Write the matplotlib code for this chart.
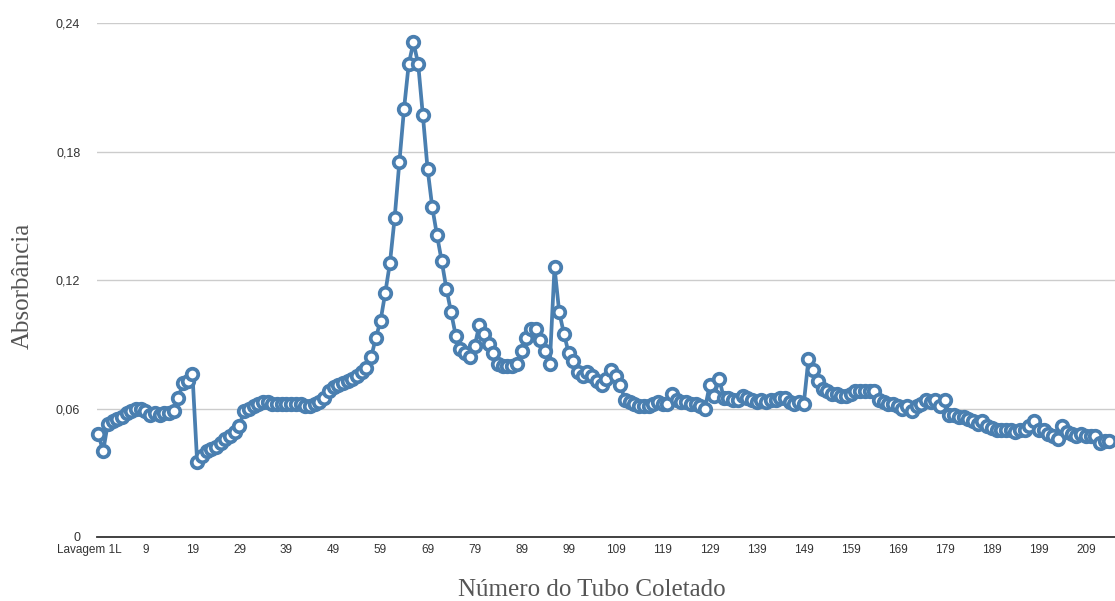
import matplotlib.pyplot as plt
import matplotlib.transforms as mtransforms
from matplotlib.ticker import FuncFormatter

absorbancia = [
    0.048, 0.040, 0.053, 0.054, 0.055, 0.056, 0.058, 0.059, 0.060, 0.060,
    0.059, 0.057, 0.058, 0.057, 0.058, 0.058, 0.059, 0.065, 0.072, 0.073,
    0.076, 0.035, 0.038, 0.040, 0.041, 0.042, 0.044, 0.046, 0.047, 0.049,
    0.052, 0.059, 0.060, 0.061, 0.062, 0.063, 0.063, 0.062, 0.062, 0.062,
    0.062, 0.062, 0.062, 0.062, 0.061, 0.061, 0.062, 0.063, 0.065, 0.068,
    0.070, 0.071, 0.072, 0.073, 0.074, 0.075, 0.077, 0.079, 0.084, 0.093,
    0.101, 0.114, 0.128, 0.149, 0.175, 0.200, 0.221, 0.231, 0.221, 0.197,
    0.172, 0.154, 0.141, 0.129, 0.116, 0.105, 0.094, 0.088, 0.086, 0.084,
    0.089, 0.099, 0.095, 0.090, 0.086, 0.081, 0.080, 0.080, 0.080, 0.081,
    0.087, 0.093, 0.097, 0.097, 0.092, 0.087, 0.081, 0.126, 0.105, 0.095,
    0.086, 0.082, 0.077, 0.075, 0.077, 0.075, 0.073, 0.071, 0.074, 0.078,
    0.075, 0.071, 0.064, 0.063, 0.062, 0.061, 0.061, 0.061, 0.062, 0.063,
    0.062, 0.062, 0.067, 0.064, 0.063, 0.063, 0.062, 0.062, 0.061, 0.060,
    0.071, 0.066, 0.074, 0.065, 0.065, 0.064, 0.064, 0.066, 0.065, 0.064,
    0.063, 0.064, 0.063, 0.064, 0.064, 0.065, 0.065, 0.063, 0.062, 0.063,
    0.062, 0.083, 0.078, 0.073, 0.069, 0.068, 0.067, 0.067, 0.066, 0.066,
    0.067, 0.068, 0.068, 0.068, 0.068, 0.068, 0.064, 0.063, 0.062, 0.062,
    0.061, 0.060, 0.061, 0.059, 0.061, 0.062, 0.064, 0.063, 0.064, 0.061,
    0.064, 0.057, 0.057, 0.056, 0.056, 0.055, 0.054, 0.053, 0.054, 0.052,
    0.051, 0.050, 0.050, 0.050, 0.050, 0.049, 0.050, 0.050, 0.052, 0.054,
    0.050, 0.050, 0.048, 0.047, 0.046, 0.052, 0.049, 0.048, 0.047, 0.048,
    0.047, 0.047, 0.047, 0.044, 0.045, 0.045,
]

tubos = ["Lavagem 1L", "Lavagem 2L"] + [str(n) for n in range(1, len(absorbancia) - 1)]
yticks = [0, 0.06, 0.12, 0.18, 0.24]

cor = "#4a7fb0"

fig = plt.figure(figsize=(11.15, 6.01), dpi=100)
ax = fig.add_axes([0.087, 0.1065, 0.913, 0.855])

x = list(range(len(absorbancia)))
ax.plot(x, absorbancia, color=cor, linewidth=2.7, marker="o", markersize=8.3,
        markerfacecolor="white", markeredgecolor=cor, markeredgewidth=2.7,
        clip_on=False, zorder=3)

ax.set_ylim(0, 0.24)
ax.set_xlim(-0.3, len(absorbancia) + 0.2)
ax.set_yticks(yticks)
ax.yaxis.set_major_formatter(FuncFormatter(lambda v, p: ("%g" % round(v, 2)).replace(".", ",")))
ax.set_xticks(x[::10])
ax.set_xticklabels(tubos[::10])

ax.grid(axis="y", color="#cccccc", linewidth=1)
ax.set_axisbelow(True)
for s in ["top", "right", "left"]:
    ax.spines[s].set_visible(False)
ax.spines["bottom"].set_color("#333333")
ax.spines["bottom"].set_linewidth(1.3)
ax.tick_params(length=0, labelsize=8.5, colors="#333333")
ax.tick_params(axis="y", pad=12, labelsize=9)
ax.tick_params(axis="x", pad=5)
for t in ax.get_xticklabels() + ax.get_yticklabels():
    t.set_family("Liberation Sans")

# first label sits a bit left of its tick in the original
lab0 = ax.get_xticklabels()[0]
lab0.set_transform(lab0.get_transform() + mtransforms.ScaledTranslation(-9 / 100, 0, fig.dpi_scale_trans))

ax.set_xlabel("Número do Tubo Coletado", family="Liberation Serif", fontsize=18,
              color="#555555")
ax.set_ylabel("Absorbância", family="Liberation Serif", fontsize=18,
              color="#555555")
ax.xaxis.set_label_coords(0.486, -0.081)
ax.yaxis.set_label_coords(-0.062, 0.488)

fig.savefig("out.png", dpi=100)
